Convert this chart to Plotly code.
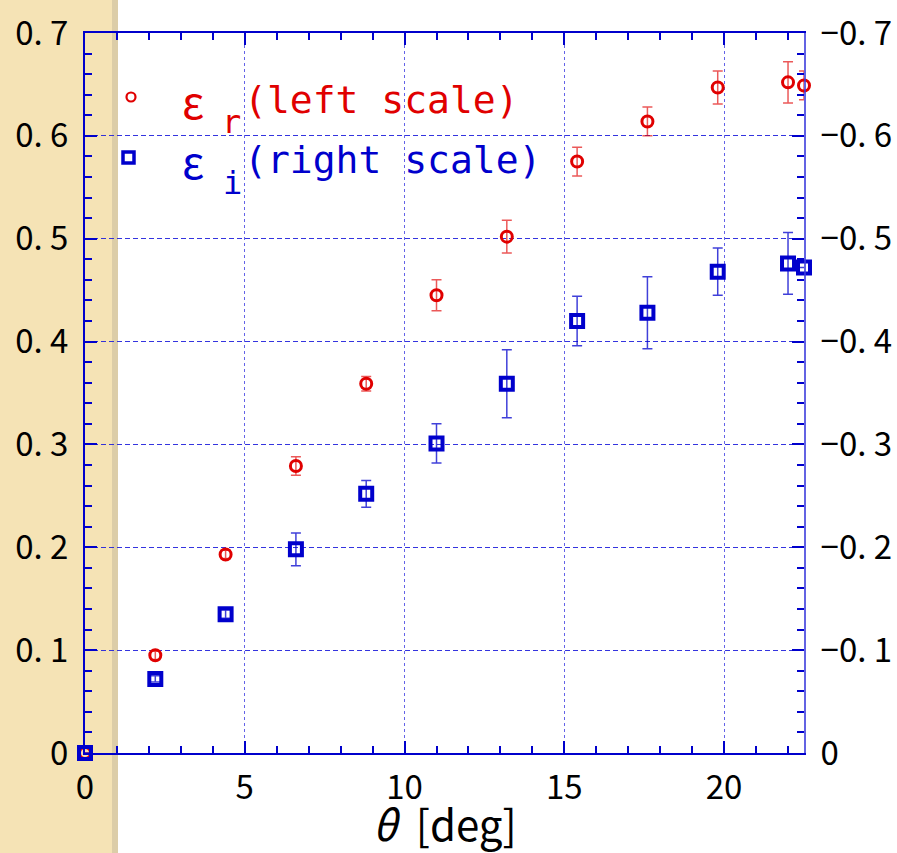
import plotly.graph_objects as go

# ---- data ----
theta = [0, 2.2, 4.4, 6.6, 8.8, 11.0, 13.2, 15.4, 17.6, 19.8, 22.0, 22.5]
eps_r = [0, 0.095, 0.193, 0.279, 0.359, 0.445, 0.502, 0.575, 0.614, 0.647, 0.652, 0.649]
eps_r_err = [0, 0.004, 0.004, 0.009, 0.007, 0.015, 0.016, 0.014, 0.014, 0.016, 0.020, 0.014]
eps_i = [0, -0.072, -0.135, -0.198, -0.252, -0.301, -0.359, -0.420, -0.428, -0.468, -0.476, -0.472]
eps_i_err = [0, 0.003, 0.004, 0.016, 0.013, 0.019, 0.033, 0.024, 0.035, 0.023, 0.030, 0.0]

NB = "\u00a0"
left_tickvals = [0, 0.1, 0.2, 0.3, 0.4, 0.5, 0.6, 0.7]
left_ticktext = ["0", "0." + NB + "1", "0." + NB + "2", "0." + NB + "3", "0." + NB + "4",
                 "0." + NB + "5", "0." + NB + "6", "0." + NB + "7"]
right_tickvals = [0, -0.1, -0.2, -0.3, -0.4, -0.5, -0.6, -0.7]
right_ticktext = ["0", "−0." + NB + "1", "−0." + NB + "2", "−0." + NB + "3", "−0." + NB + "4",
                  "−0." + NB + "5", "−0." + NB + "6", "−0." + NB + "7"]
x_tickvals = [0, 5, 10, 15, 20]

RED = "#E00000"
BLUE = "#0000CC"
W, H = 897, 853
L, R, T, B = 85, 93, 33, 100
PW, PH = W - L - R, H - T - B

def px2x(px):
    return (px - L) / PW

def py2y(py):
    return (H - B - py) / PH

FONT = "Noto Sans CJK JP"

fig = go.Figure()

fig.add_trace(go.Scatter(
    x=theta, y=eps_i, yaxis="y2", mode="markers",
    marker=dict(symbol="square-open", size=12, color=BLUE, line=dict(width=4, color=BLUE)),
    error_y=dict(type="data", array=eps_i_err, color="rgba(0,0,204,0.75)", thickness=1.5, width=5),
    cliponaxis=False, showlegend=False))

fig.add_trace(go.Scatter(
    x=theta, y=eps_r, mode="markers",
    marker=dict(symbol="circle-open", size=11, color=RED, line=dict(width=3, color=RED)),
    error_y=dict(type="data", array=eps_r_err, color="rgba(225,0,0,0.65)", thickness=1.5, width=5),
    cliponaxis=False, showlegend=False))

axis_common = dict(
    ticks="inside", tickcolor=BLUE, ticklen=12, tickwidth=1.5,
    linecolor=BLUE, linewidth=2, showline=True, zeroline=False,
    tickfont=dict(family=FONT, size=33, color="black"),
)

fig.update_layout(
    width=W, height=H,
    margin=dict(l=L, r=R, t=T, b=B, autoexpand=False),
    paper_bgcolor="white", plot_bgcolor="rgba(0,0,0,0)",
    xaxis=dict(
        range=[0, 22.5], tickvals=x_tickvals, mirror="ticks",
        showgrid=True, gridcolor="rgba(60,60,225,0.8)", griddash="3px,3px", gridwidth=1.3,
        minor=dict(dtick=1, ticks="inside", ticklen=7, tickcolor=BLUE, showgrid=False),
        title=dict(text="<i>θ</i>" + NB + NB + "[deg]", font=dict(family=FONT, size=42, color="black"), standoff=0),
        ticklabelstandoff=4,
        **axis_common),
    yaxis=dict(
        range=[0, 0.7], tickvals=left_tickvals, ticktext=left_ticktext,
        showgrid=True, gridcolor="rgba(30,30,220,0.9)", griddash="5px,3px", gridwidth=1.3,
        minor=dict(dtick=0.02, ticks="inside", ticklen=7, tickcolor=BLUE, showgrid=False),
        ticklabelstandoff=8,
        **axis_common),
    yaxis2=dict(
        overlaying="y", side="right", range=[0, -0.7],
        tickvals=right_tickvals, ticktext=right_ticktext, showgrid=False,
        minor=dict(dtick=0.02, ticks="inside", ticklen=7, tickcolor=BLUE),
        ticklabelstandoff=8,
        **{**axis_common, "linecolor": "rgba(60,60,220,0.8)"}),
)

# beige strip on the left
shapes = [
    dict(type="rect", xref="paper", yref="paper", x0=px2x(0), x1=px2x(114), y0=py2y(H), y1=py2y(0),
         fillcolor="#F5E3B5", line=dict(width=0), layer="below"),
    dict(type="rect", xref="paper", yref="paper", x0=px2x(112), x1=px2x(118), y0=py2y(H), y1=py2y(0),
         fillcolor="#DCCDA8", line=dict(width=0), layer="below"),
    # legend keys
    dict(type="circle", xref="paper", yref="paper", x0=px2x(126.5), x1=px2x(135.5), y0=py2y(101.5), y1=py2y(92.5),
         line=dict(color=RED, width=2.2), fillcolor="rgba(0,0,0,0)"),
    dict(type="rect", xref="paper", yref="paper", x0=px2x(123), x1=px2x(134), y0=py2y(163), y1=py2y(152),
         line=dict(color=BLUE, width=3.5), fillcolor="rgba(0,0,0,0)"),
]
fig.update_layout(shapes=shapes)

LEG_FONT = "DejaVu Sans Mono"
ann = [
    dict(text="ε", x=px2x(180), y=py2y(100), color=RED, size=44),
    dict(text="r", x=px2x(220), y=py2y(122), color=RED, size=32),
    dict(text="(left scale)", x=px2x(242), y=py2y(100), color=RED, size=38),
    dict(text="ε", x=px2x(180), y=py2y(160), color=BLUE, size=44),
    dict(text="i", x=px2x(221), y=py2y(183), color=BLUE, size=32),
    dict(text="(right scale)", x=px2x(242), y=py2y(160), color=BLUE, size=38),
]
fig.update_layout(annotations=[
    dict(text=a["text"], x=a["x"], y=a["y"], xref="paper", yref="paper", xanchor="left", yanchor="middle",
         showarrow=False, font=dict(family=LEG_FONT if a["text"] != "ε" else FONT, size=a["size"], color=a["color"]))
    for a in ann
])

fig.write_html("out.html")
